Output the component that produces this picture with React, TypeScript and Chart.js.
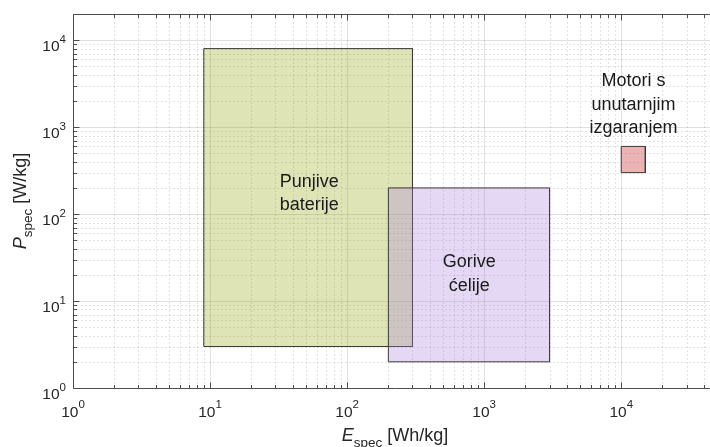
import React, { useEffect, useRef } from "react";
import { Chart, registerables } from "chart.js";

Chart.register(...registerables);

// ---- axis ranges & tick decades ----
const X_MIN = 1;
const X_MAX = 5e4;
const Y_MIN = 1;
const Y_MAX = 2e4;
const xDecades = [0, 1, 2, 3, 4];
const yDecades = [0, 1, 2, 3, 4];

// ---- data: regions (specific energy [Wh/kg] vs specific power [W/kg]) ----
const regionNames = ["Punjive baterije", "Gorive ćelije", "Motori s unutarnjim izgaranjem"];
const energyMin = [9, 200, 10000];
const energyMax = [300, 3000, 15000];
const powerMin = [3, 2, 300];
const powerMax = [8000, 200, 600];

// ---- text annotations (data coordinates) ----
const labelLines = [["Punjive", "baterije"], ["Gorive", "ćelije"], ["Motori s", "unutarnjim", "izgaranjem"]];
const labelEnergy = [53, 780, 12300];
const labelPower = [178, 21, 1850];

// ---- styles ----
const fillColors = ["rgba(145,165,12,0.3)", "rgba(168,125,222,0.3)", "rgba(205,65,65,0.4)"];
const drawOrder = [2, 1, 0];

const FONT = '"Liberation Sans", Arial, Helvetica, sans-serif';
const TEXT = "#262626";

function minorValues(min: number, max: number): number[] {
  const out: number[] = [];
  for (let d = Math.floor(Math.log10(min)); d <= Math.ceil(Math.log10(max)); d++) {
    for (let m = 2; m <= 9; m++) {
      const v = m * Math.pow(10, d);
      if (v > min && v < max) out.push(v);
    }
  }
  return out;
}

const matlabAxes = {
  id: "matlabAxes",
  beforeDatasetsDraw(chart: any) {
    const { ctx, chartArea: a, scales } = chart;
    const xs = scales.x;
    const ys = scales.y;
    ctx.save();
    ctx.beginPath();
    ctx.rect(a.left, a.top, a.right - a.left, a.bottom - a.top);
    ctx.clip();
    ctx.lineWidth = 1;
    // minor grid
    ctx.setLineDash([2, 2]);
    ctx.strokeStyle = "rgba(38,38,38,0.13)";
    for (const v of minorValues(X_MIN, X_MAX)) {
      const px = Math.round(xs.getPixelForValue(v)) + 0.5;
      ctx.beginPath();
      ctx.moveTo(px, a.top);
      ctx.lineTo(px, a.bottom);
      ctx.stroke();
    }
    for (const v of minorValues(Y_MIN, Y_MAX)) {
      const py = Math.round(ys.getPixelForValue(v)) + 0.5;
      ctx.beginPath();
      ctx.moveTo(a.left, py);
      ctx.lineTo(a.right, py);
      ctx.stroke();
    }
    // major grid
    ctx.setLineDash([]);
    ctx.strokeStyle = "rgba(38,38,38,0.14)";
    for (const d of xDecades) {
      const px = Math.round(xs.getPixelForValue(Math.pow(10, d))) + 0.5;
      ctx.beginPath();
      ctx.moveTo(px, a.top);
      ctx.lineTo(px, a.bottom);
      ctx.stroke();
    }
    for (const d of yDecades) {
      const py = Math.round(ys.getPixelForValue(Math.pow(10, d))) + 0.5;
      ctx.beginPath();
      ctx.moveTo(a.left, py);
      ctx.lineTo(a.right, py);
      ctx.stroke();
    }
    ctx.restore();
  },
  afterDatasetsDraw(chart: any) {
    const { ctx, chartArea: a, scales } = chart;
    const xs = scales.x;
    const ys = scales.y;
    ctx.save();
    // box
    const L = Math.round(a.left) + 0.5;
    const R = Math.round(a.right) + 0.5;
    const T = Math.round(a.top) + 0.5;
    const B = Math.round(a.bottom) + 0.5;
    ctx.strokeStyle = "#4d4d4d";
    ctx.lineWidth = 1;
    ctx.beginPath();
    ctx.moveTo(L, T);
    ctx.lineTo(R, T);
    ctx.lineTo(R, B);
    ctx.lineTo(L, B);
    ctx.closePath();
    ctx.stroke();
    // ticks
    const MAJ = 6;
    const MIN = 3.5;
    const tickX = (v: number, len: number) => {
      const px = Math.round(xs.getPixelForValue(v)) + 0.5;
      ctx.beginPath();
      ctx.moveTo(px, B);
      ctx.lineTo(px, B - len);
      ctx.moveTo(px, T);
      ctx.lineTo(px, T + len);
      ctx.stroke();
    };
    const tickY = (v: number, len: number) => {
      const py = Math.round(ys.getPixelForValue(v)) + 0.5;
      ctx.beginPath();
      ctx.moveTo(L, py);
      ctx.lineTo(L + len, py);
      ctx.moveTo(R, py);
      ctx.lineTo(R - len, py);
      ctx.stroke();
    };
    minorValues(X_MIN, X_MAX).forEach((v) => tickX(v, MIN));
    xDecades.forEach((d) => tickX(Math.pow(10, d), MAJ));
    minorValues(Y_MIN, Y_MAX).forEach((v) => tickY(v, MIN));
    yDecades.forEach((d) => tickY(Math.pow(10, d), MAJ));

    // tick labels 10^n
    const baseFont = `15.5px ${FONT}`;
    const expFont = `11.5px ${FONT}`;
    ctx.fillStyle = TEXT;
    ctx.textBaseline = "alphabetic";
    ctx.textAlign = "left";
    for (const d of xDecades) {
      const px = xs.getPixelForValue(Math.pow(10, d));
      ctx.font = baseFont;
      const w1 = ctx.measureText("10").width;
      ctx.font = expFont;
      const w2 = ctx.measureText(String(d)).width;
      const x0 = px - (w1 + w2) / 2;
      ctx.font = baseFont;
      ctx.fillText("10", x0, B + 28.5);
      ctx.font = expFont;
      ctx.fillText(String(d), x0 + w1, B + 19.5);
    }
    for (const d of yDecades) {
      const py = ys.getPixelForValue(Math.pow(10, d));
      ctx.font = baseFont;
      const w1 = ctx.measureText("10").width;
      ctx.font = expFont;
      const w2 = ctx.measureText(String(d)).width;
      const x0 = a.left - 7 - w1 - w2;
      ctx.font = baseFont;
      ctx.fillText("10", x0, py + 11);
      ctx.font = expFont;
      ctx.fillText(String(d), x0 + w1, py + 3);
    }

    // axis titles with italic symbol and subscript
    const drawTitle = (sym: string, rest: string) => {
      const symFont = `italic 18px ${FONT}`;
      const subFont = `13.5px ${FONT}`;
      const restFont = `18px ${FONT}`;
      ctx.font = symFont;
      const w1 = ctx.measureText(sym).width;
      ctx.font = subFont;
      const w2 = ctx.measureText("spec").width;
      ctx.font = restFont;
      const w3 = ctx.measureText(rest).width;
      const x0 = -(w1 + w2 + w3) / 2;
      ctx.font = symFont;
      ctx.fillText(sym, x0, 0);
      ctx.font = subFont;
      ctx.fillText("spec", x0 + w1, 6.5);
      ctx.font = restFont;
      ctx.fillText(rest, x0 + w1 + w2, 0);
    };
    ctx.save();
    ctx.translate((a.left + a.right) / 2, 440.5);
    drawTitle("E", " [Wh/kg]");
    ctx.restore();
    ctx.save();
    ctx.translate(25.5, (a.top + a.bottom) / 2);
    ctx.rotate(-Math.PI / 2);
    drawTitle("P", " [W/kg]");
    ctx.restore();

    // annotations
    ctx.fillStyle = "#1a1a1a";
    ctx.font = `18px ${FONT}`;
    ctx.textAlign = "center";
    ctx.textBaseline = "middle";
    labelLines.forEach((lines, i) => {
      const cx = xs.getPixelForValue(labelEnergy[i]);
      const cy = ys.getPixelForValue(labelPower[i]);
      const lh = 23.5;
      lines.forEach((t, j) => {
        ctx.fillText(t, cx, cy + (j - (lines.length - 1) / 2) * lh + 1);
      });
    });
    ctx.restore();
  },
};

export default function App() {
  const canvasRef = useRef<HTMLCanvasElement | null>(null);

  useEffect(() => {
    const canvas = canvasRef.current;
    if (!canvas) return;
    const datasets = regionNames.map((name, i) => ({
      label: name,
      data: [
        { x: energyMin[i], y: powerMin[i] },
        { x: energyMin[i], y: powerMax[i] },
        { x: energyMax[i], y: powerMax[i] },
        { x: energyMax[i], y: powerMin[i] },
        { x: energyMin[i], y: powerMin[i] },
      ],
      showLine: true,
      fill: "shape",
      backgroundColor: fillColors[i],
      borderColor: "#3a3a3a",
      borderWidth: 1,
      pointRadius: 0,
      pointHoverRadius: 0,
      tension: 0,
      order: drawOrder[i],
    }));
    const chart = new Chart(canvas, {
      type: "scatter",
      data: { datasets: datasets as any },
      options: {
        animation: false,
        responsive: false,
        events: [],
        layout: { padding: { left: 0, top: 14, right: 43, bottom: 0 } },
        plugins: {
          legend: { display: false },
          tooltip: { enabled: false },
          filler: { propagate: false },
        },
        scales: {
          x: {
            type: "logarithmic",
            min: X_MIN,
            max: X_MAX,
            ticks: { display: false },
            grid: { display: false },
            border: { display: false },
            afterFit: (s: any) => {
              s.height = 59;
            },
          },
          y: {
            type: "logarithmic",
            min: Y_MIN,
            max: Y_MAX,
            ticks: { display: false },
            grid: { display: false },
            border: { display: false },
            afterFit: (s: any) => {
              s.width = 73;
            },
          },
        },
      } as any,
      plugins: [matlabAxes],
    });
    return () => chart.destroy();
  }, []);

  return (
    <div
      style={{
        position: "fixed",
        left: 0,
        top: 0,
        width: 710,
        height: 447,
        overflow: "hidden",
        background: "#ffffff",
      }}
    >
      <canvas ref={canvasRef} width={760} height={447} style={{ display: "block", width: 760, height: 447 }} />
    </div>
  );
}
